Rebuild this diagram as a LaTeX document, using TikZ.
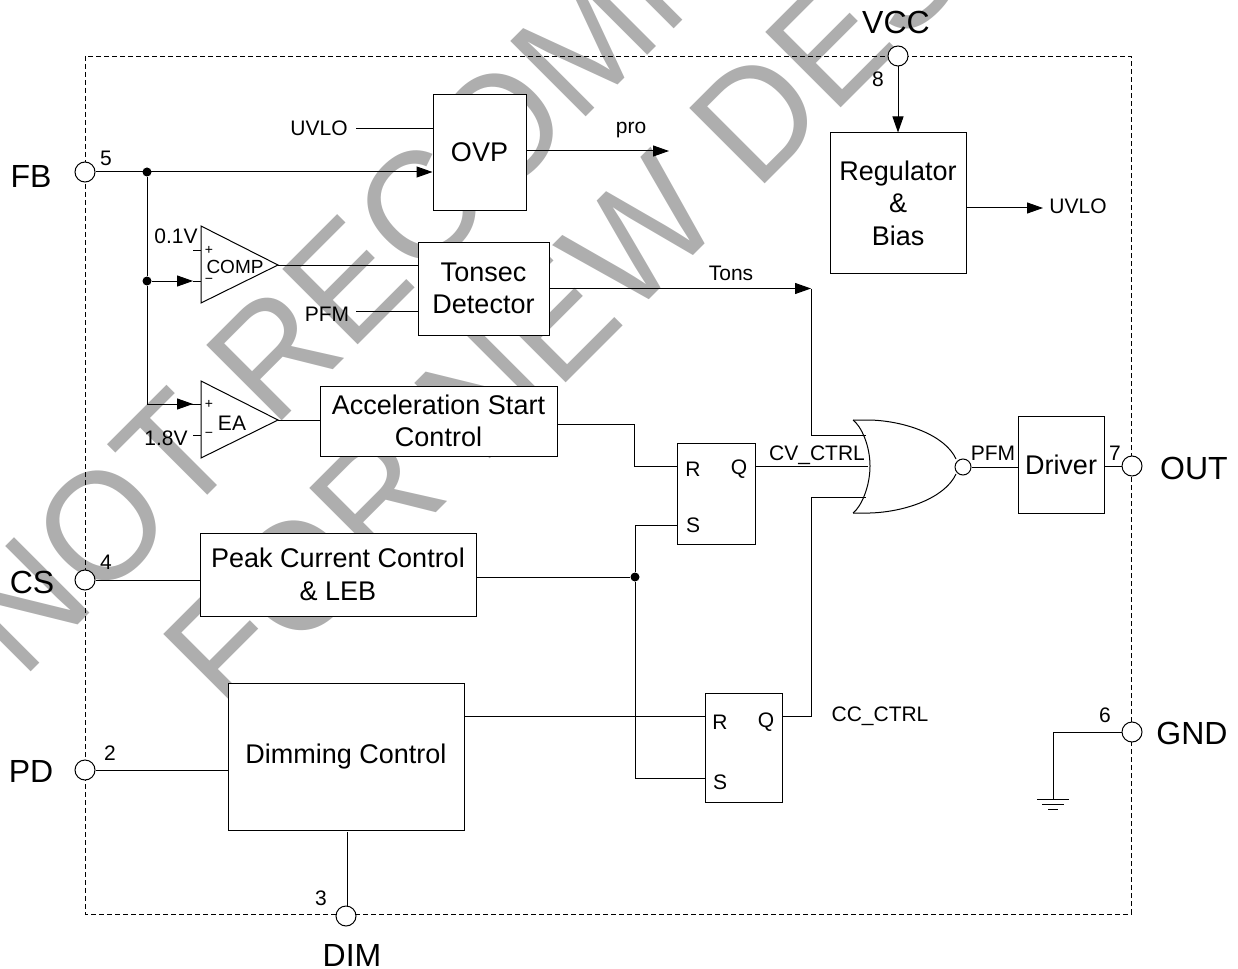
\documentclass[tikz,border=0pt]{standalone}
\usepackage{xcolor, fontspec}
\usepackage{tikz}
\usetikzlibrary{arrows.meta}
\setmainfont{Liberation Sans}
\newfontfamily\stampfont[FakeStretch=0.96]{Liberation Sans}
\definecolor{stampgray}{RGB}{174,174,174}

\begin{document}
\begin{tikzpicture}
	[x=1pt, y=-1pt, line width=1pt,
	bigtext/.style={font=\fontsize{27}{32.5}\selectfont},
	smalltext/.style={font=\fontsize{21}{25}\selectfont},
	signtext/.style={font=\fontsize{14}{14}\selectfont},
	block/.style={draw, fill=white, bigtext, align=center, inner sep=0pt},
	flop/.style={draw, fill=white, inner sep=0pt},
	pin/.style={draw, circle, fill=white, minimum size=20pt, inner sep=0pt},
	junction/.style={circle, fill=black, minimum size=9pt, inner sep=0pt},
	tag/.style={smalltext, inner sep=0pt},
	pintag/.style={font=\fontsize{32}{36}\selectfont, inner sep=0pt},
	stamp/.style={font=\stampfont\fontsize{155}{155}\selectfont, text=stampgray, rotate=45, anchor=base west, inner sep=0pt},
	arrow/.style={-{Triangle[length=16pt, width=11pt]}}]
	\useasboundingbox (0,0) rectangle (1238,968);
	\node[stamp] (stampone) at (22,681) {NOT RECOMMENDED};
	\node[stamp] (stamptwo) at (230,719) {FOR NEW DESIGN};
	\draw[dashed, dash pattern=on 5pt off 3pt, line width=.8pt] (85,56) rectangle (1131,914);
	\node[pin] (fb) at (85,172) {};
	\node[pin] (cs) at (85,580) {};
	\node[pin] (pd) at (85,770) {};
	\node[pin] (dim) at (346,916) {};
	\node[pin] (vcc) at (898,56) {};
	\node[pin] (out) at (1132,466) {};
	\node[pin] (gnd) at (1132,732) {};
	\node[pintag] at (31,176) {FB};
	\node[pintag] at (32,582) {CS};
	\node[pintag] at (31,771) {PD};
	\node[pintag] at (352,955) {DIM};
	\node[pintag] at (896,22) {VCC};
	\node[pintag] at (1194,468) {OUT};
	\node[pintag] at (1192,733) {GND};
	\node[tag] at (106,158) {5};
	\node[tag] at (106,562) {4};
	\node[tag] at (110,753) {2};
	\node[tag] at (321,898) {3};
	\node[tag] at (878,79) {8};
	\node[tag] at (1115,453) {7};
	\node[tag] at (1105,715) {6};
	\node[block, minimum width=93pt, minimum height=116pt] (ovp) at (479.5,153) {\raisebox{2pt}{OVP}};
	\node[block, minimum width=131pt, minimum height=93pt] (tonsec) at (483.5,288.5) {Tonsec\\Detector};
	\node[block, minimum width=237pt, minimum height=70pt] (accel) at (438.5,421) {Acceleration Start\\Control};
	\node[block, minimum width=276pt, minimum height=83pt] (peak) at (338,574.5) {Peak Current Control\\\& LEB};
	\node[block, minimum width=236pt, minimum height=147pt] (dimming) at (346,756.5) {Dimming Control};
	\node[block, minimum width=136pt, minimum height=140pt] (regulator) at (898,203) {Regulator\\\&\\Bias};
	\node[block, minimum width=86pt, minimum height=97pt] (driver) at (1061,464.5) {Driver};
	\node[flop, minimum width=78pt, minimum height=101pt] (flopcv) at (716,493.5) {};
	\node[flop, minimum width=77pt, minimum height=109pt] (flopcc) at (743.5,747.5) {};
	\node[tag] at (693,469) {R};
	\node[tag] at (739,469) {Q};
	\node[tag] at (693,525) {S};
	\node[tag] at (720,722) {R};
	\node[tag] at (766,722) {Q};
	\node[tag] at (720,782) {S};
	\coordinate (comptip) at (278,265);
	\coordinate (eatip) at (278,420);
	\draw[fill=white] (201,226) -- (comptip) -- (201,303) -- cycle;
	\draw[fill=white] (201,381) -- (eatip) -- (201,458) -- cycle;
	\node[tag, font=\fontsize{19}{19}\selectfont] at (235,267) {COMP};
	\node[tag] at (232,423) {EA};
	\node[tag, signtext] at (209,250) {+};
	\node[tag, signtext] at (209,281) {\textminus};
	\node[tag, signtext] at (209,404) {+};
	\node[tag, signtext] at (209,435) {\textminus};
	\node[tag] (zeroone) at (176,236) {0.1V};
	\node[tag] (oneeight) at (166,438) {1.8V};
	\coordinate (compplus) at (193,250);
	\coordinate (eaminus) at (193,435);
	\draw (compplus) -- ++(8,0);
	\draw (eaminus) -- ++(8,0);
	\node[tag] (uvloin) at (319,128) {UVLO};
	\node[tag] (pfmin) at (327,314) {PFM};
	\node[tag] at (631,130) {pro};
	\node[tag] at (731,273) {Tons};
	\node[tag] (uvloout) at (1078,206) {UVLO};
	\node[tag] at (817,455) {CV\_CTRL};
	\node[tag] at (880,716) {CC\_CTRL};
	\node[tag] at (993,453) {PFM};
	\node[junction] (fbdot) at (147,172) {};
	\node[junction] (compdot) at (147,281) {};
	\node[junction] (peakdot) at (635,577) {};
	\coordinate (compminus) at (193,281);
	\coordinate (eaplus) at (193,404);
	\coordinate (uvlofoot) at (356,129);
	\coordinate (pfmfoot) at (356,311);
	\coordinate (proend) at (669,151);
	\coordinate (tonsend) at (811,288.5);
	\coordinate (ccup) at (811,497);
	\coordinate (gateone) at (866,435);
	\coordinate (gatetwo) at (868,466);
	\coordinate (gatethree) at (866,497);
	\coordinate (earth) at (1053,799);
	\node[draw, circle, fill=white, minimum size=16pt, inner sep=0pt] (bubble) at (963,467) {};
	\draw (853,420) .. controls (861,426) and (870,445) .. (870,466) .. controls (870,487) and (861,507) .. (853,513);
	\draw (853,420) -- (870,420) .. controls (905,421) and (945,435) .. (956,459);
	\draw (853,513) -- (870,513) .. controls (905,512) and (945,498) .. (956,474);
	\draw[arrow] (fb) -- (fb -| ovp.west);
	\draw (fbdot) -- (compdot);
	\draw (compdot) |- (eaplus);
	\draw[arrow] (compdot) -- (compminus);
	\draw[arrow] (compdot |- eaplus) -- (eaplus);
	\draw (compminus) -- ++(8,0);
	\draw (eaplus) -- ++(8,0);
	\draw (uvlofoot) -- (uvlofoot -| ovp.west);
	\draw (comptip) -- (comptip -| tonsec.west);
	\draw (pfmfoot) -- (pfmfoot -| tonsec.west);
	\draw (eatip) -- (eatip -| accel.west);
	\draw[arrow] (ovp.east |- proend) -- (proend);
	\draw[arrow] (tonsec.east) -- (tonsend);
	\draw (tonsend) |- (gateone);
	\draw (accel.east) ++(0,3) -| (634,466) -- (677,466);
	\draw (flopcv.east |- gatetwo) -- (gatetwo);
	\draw (cs) -- (cs -| peak.west);
	\draw (peak.east |- peakdot) -- (peakdot);
	\draw (677,525) -| (peakdot);
	\draw (peakdot) |- (705,778);
	\draw (pd) -- (pd -| dimming.west);
	\draw (dimming.east |- 0,716) -- (705,716);
	\draw (347,832) -- (dim.north -| 347,0);
	\draw (782,716) -| (ccup) -- (gatethree);
	\draw (bubble) -- (bubble -| driver.west);
	\draw (driver.east |- out) -- (out);
	\draw[arrow] (vcc) -- (vcc |- regulator.north);
	\draw[arrow] (regulator.east |- 0,208) -- (1043,208);
	\draw (gnd) -| (earth);
	\draw (1037,799) -- (1069,799);
	\draw (1042,804) -- (1064,804);
	\draw (1048,809) -- (1058,809);
\end{tikzpicture}
\end{document}
